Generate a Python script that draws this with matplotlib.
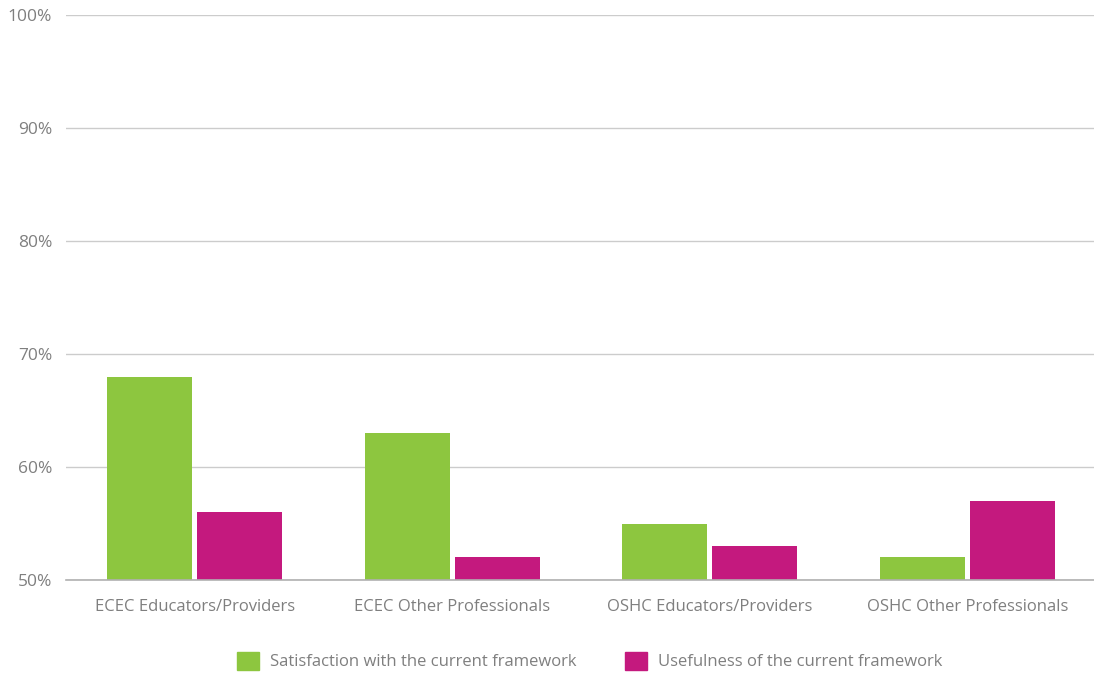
import matplotlib.pyplot as plt
from matplotlib.patches import Patch
import numpy as np

plt.rcParams['font.family'] = ['Open Sans', 'DejaVu Sans']

categories = ['ECEC Educators/Providers', 'ECEC Other Professionals',
              'OSHC Educators/Providers', 'OSHC Other Professionals']
satisfaction = [68, 63, 55, 52]
usefulness = [56, 52, 53, 57]
series_names = ['Satisfaction with the current framework',
                'Usefulness of the current framework']
yticks = [50, 60, 70, 80, 90, 100]

green = '#8dc63f'
magenta = '#c4197e'
label_color = '#7f7f7f'

fig = plt.figure(figsize=(10.94, 6.75), dpi=100)
ax = fig.add_axes([66 / 1094, 95 / 675, 1030 / 1094, 565 / 675])

x = np.arange(len(categories))
w = 85 / 257.5
off = 45 / 257.5
ax.bar(x - off, satisfaction, width=w, color=green, zorder=3)
ax.bar(x + off, usefulness, width=w, color=magenta, zorder=3)

ax.set_xlim(-0.5, len(categories) - 0.5)
ax.set_ylim(50, 100)
ax.set_yticks(yticks)
ax.set_yticklabels([f'{v}%' for v in yticks])
ax.yaxis.grid(True, color='#cccccc', linewidth=1, zorder=0)
ax.set_xticks(x)
ax.set_xticklabels(categories)

for s in ['top', 'right', 'left']:
    ax.spines[s].set_visible(False)
ax.spines['bottom'].set_color('#b0b0b0')
ax.spines['bottom'].set_linewidth(1.2)
ax.spines['bottom'].set_zorder(4)

ax.tick_params(axis='y', length=0, pad=10, labelsize=12.5, labelcolor=label_color)
ax.tick_params(axis='x', length=0, pad=14, labelsize=12, labelcolor=label_color)

handles = [Patch(color=green), Patch(color=magenta)]
leg = fig.legend(handles, series_names, loc='center', ncol=2,
                 bbox_to_anchor=(590 / 1094, 14 / 675), frameon=False,
                 fontsize=12, handlelength=1.32, handleheight=1.32,
                 handletextpad=0.66, columnspacing=2.9)
for t in leg.get_texts():
    t.set_color(label_color)

fig.savefig('out.png', dpi=100)
